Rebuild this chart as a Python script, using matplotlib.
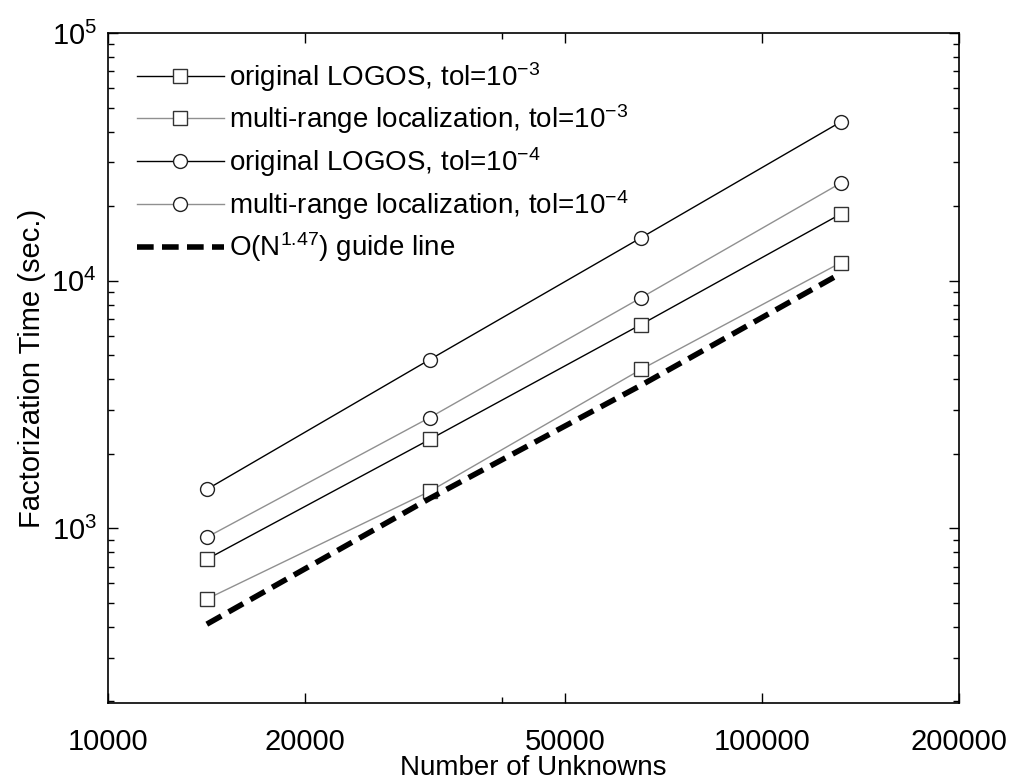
import matplotlib
matplotlib.use("Agg")
import matplotlib.pyplot as plt
from matplotlib.ticker import FixedLocator, FixedFormatter, LogLocator, NullFormatter

plt.rcParams['font.family'] = ['Liberation Sans', 'DejaVu Sans']
plt.rcParams['mathtext.fontset'] = 'custom'
plt.rcParams['mathtext.rm'] = 'Liberation Sans'
plt.rcParams['mathtext.it'] = 'Liberation Sans'

# data
unknowns = [14160, 31040, 65300, 132000]
orig_tol3 = [750, 2285, 6650, 18600]
multi_tol3 = [518, 1410, 4380, 11830]
orig_tol4 = [1436, 4800, 14900, 43800]
multi_tol4 = [920, 2800, 8530, 24800]
guide = [410, 1320, 3780, 10700]

labels = ["original LOGOS, tol=10$^{-3}$",
          "multi-range localization, tol=10$^{-3}$",
          "original LOGOS, tol=10$^{-4}$",
          "multi-range localization, tol=10$^{-4}$",
          "O(N$^{1.47}$) guide line"]
xticks = [10000, 20000, 50000, 100000, 200000]

fig = plt.figure(figsize=(10.23, 7.84), dpi=100)
ax = fig.add_axes([108/1023, 1-703/784, (959-108)/1023, (703-33)/784])

gray = '#909090'
ax.plot(unknowns, orig_tol3, '-', color='black', lw=1, marker='s', ms=10,
        mfc='white', mec='#333333', mew=1, label=labels[0])
ax.plot(unknowns, multi_tol3, '-', color=gray, lw=1, marker='s', ms=10,
        mfc='white', mec='#333333', mew=1, label=labels[1])
ax.plot(unknowns, orig_tol4, '-', color='black', lw=1, marker='o', ms=10,
        mfc='white', mec='#222222', mew=1, label=labels[2])
ax.plot(unknowns, multi_tol4, '-', color=gray, lw=1, marker='o', ms=10,
        mfc='white', mec='#222222', mew=1, label=labels[3])
ax.plot(unknowns, guide, '--', color='black', lw=4, dashes=(3, 1.5), label=labels[4])

ax.set_xscale('log')
ax.set_yscale('log')
ax.set_xlim(10000, 200000)
ax.set_ylim(197, 100000)

ax.xaxis.set_major_locator(FixedLocator(xticks))
ax.xaxis.set_major_formatter(FixedFormatter([str(v) for v in xticks]))
ax.xaxis.set_minor_locator(FixedLocator([40000]))
ax.xaxis.set_minor_formatter(NullFormatter())
ax.yaxis.set_major_locator(LogLocator(base=10, numticks=10))
ax.yaxis.set_minor_locator(LogLocator(base=10, subs=range(2, 10), numticks=20))
ax.yaxis.set_minor_formatter(NullFormatter())

ax.tick_params(which='both', direction='in', top=True, right=True, labelsize=21)
ax.tick_params(which='major', length=7, width=1)
ax.tick_params(which='minor', length=4, width=1)
ax.tick_params(axis='x', pad=18)
ax.tick_params(axis='y', pad=8)
for s in ax.spines.values():
    s.set_linewidth(1.2)

ax.set_xlabel("Number of Unknowns", fontsize=20, labelpad=-1)
ax.set_ylabel("Factorization Time (sec.)", fontsize=21, labelpad=4)

ax.legend(loc='upper left', frameon=False, fontsize=20, handlelength=3.1,
          handletextpad=0.2, labelspacing=0.32, borderaxespad=0.2,
          bbox_to_anchor=(0.015, 0.985))

fig.savefig("out.png", dpi=100)
